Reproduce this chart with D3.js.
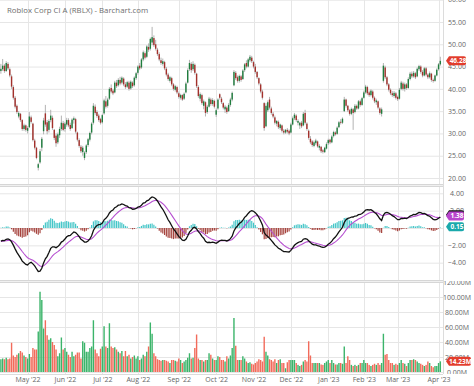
<!DOCTYPE html>
<html>
<head>
<meta charset="utf-8">
<script src="https://cdn.jsdelivr.net/npm/d3@7"></script>
<style>
  body { margin: 0; background: #fff; }
  svg { display: block; font-family: "Open Sans", sans-serif; }
</style>
</head>
<body>
<svg id="chart" width="474" height="386"></svg>
<script>
// daily bars, 8 Apr 2022 .. 4 Apr 2023 (trading days)
const opens = [
  44.0, 44.4, 45.2, 44.0, 45.6, 44.4, 42.8, 40.4, 38.0, 36.2,
  33.8, 34.4, 33.0, 31.0, 31.8, 30.6, 31.4, 33.6, 32.2, 28.4,
  26.8, 22.3, 23.5, 26.8, 30.5, 34.5, 32.5, 30.8, 33.0, 33.5,
  30.8, 29.5, 28.0, 29.6, 31.0, 32.3, 31.0, 32.0, 33.0, 31.9,
  31.2, 33.0, 33.2, 30.2, 28.5, 27.0, 25.8, 24.5, 25.8, 27.4,
  28.6, 30.2, 32.4, 36.0, 34.8, 34.0, 33.2, 32.5, 34.5, 37.2,
  36.2, 37.8, 40.2, 39.6, 39.2, 41.4, 40.8, 42.0, 41.4, 42.3,
  41.0, 40.5, 41.4, 40.1, 41.4, 40.8, 42.4, 43.6, 45.2, 44.8,
  46.6, 48.0, 47.2, 49.4, 49.0, 50.4, 51.4, 50.0, 48.8, 47.8,
  46.4, 45.6, 46.0, 44.5, 43.2, 41.8, 42.4, 41.0, 39.8, 40.4,
  39.0, 38.0, 38.6, 37.8, 39.2, 41.4, 44.4, 45.6, 44.4, 45.4,
  43.4, 40.4, 37.8, 38.6, 36.2, 37.0, 34.8, 36.0, 37.6, 36.6,
  37.3, 34.2, 35.6, 38.8, 37.8, 36.8, 35.4, 35.8, 35.0, 36.4,
  37.6, 40.8, 43.6, 42.6, 41.8, 42.8, 42.2, 44.2, 45.8, 45.0,
  46.4, 47.0, 46.0, 45.0, 43.8, 42.4, 41.0, 39.4, 36.8, 31.6,
  35.2, 37.6, 35.6, 34.4, 33.6, 32.2, 32.6, 31.2, 31.8, 30.6,
  30.2, 30.8, 30.6, 30.2, 32.0, 33.4, 34.0, 32.4, 31.8, 32.4,
  31.8, 34.6, 32.2, 30.6, 28.8, 28.2, 27.2, 27.8, 28.2, 26.8,
  27.0, 26.2, 25.8, 26.6, 27.8, 28.6, 28.0, 29.4, 30.2, 29.9,
  31.4, 32.6, 32.4, 35.0, 37.6, 36.2, 35.2, 34.4, 35.4, 34.8,
  36.2, 35.6, 37.2, 36.4, 38.0, 39.2, 40.4, 39.2, 38.6, 39.4,
  38.0, 37.0, 37.2, 35.6, 34.4, 41.8, 44.8, 42.6, 41.0, 39.8,
  39.0, 38.4, 39.0, 38.2, 37.8, 40.0, 41.2, 40.0, 41.0, 40.2,
  42.2, 43.4, 42.8, 43.5, 42.8, 44.4, 45.0, 43.8, 43.0, 44.6,
  43.2, 42.6, 43.4, 42.0, 41.8, 43.0, 44.4, 45.5
];
const highs = [
  45.6, 46.7, 45.6, 46.2, 46.0, 44.8, 43.2, 40.8, 38.4, 36.5,
  35.0, 34.6, 33.2, 32.2, 32.0, 31.6, 34.8, 34.0, 32.4, 28.8,
  27.0, 23.4, 26.5, 29.2, 33.5, 36.4, 33.0, 33.2, 35.3, 34.0,
  31.0, 30.0, 30.2, 31.5, 34.0, 32.8, 32.6, 33.5, 33.4, 32.4,
  33.4, 33.8, 33.5, 30.4, 28.9, 27.4, 27.2, 26.0, 27.6, 29.0,
  30.4, 32.5, 36.8, 36.5, 35.2, 34.4, 33.5, 34.4, 37.8, 38.4,
  38.0, 40.4, 41.0, 40.0, 41.8, 42.0, 42.4, 42.7, 42.8, 42.6,
  41.5, 41.8, 41.8, 41.9, 41.7, 42.8, 43.8, 45.3, 45.8, 46.9,
  48.6, 48.4, 49.8, 50.2, 51.5, 53.9, 52.0, 51.0, 49.2, 48.2,
  47.0, 46.8, 46.3, 44.9, 43.6, 42.9, 42.7, 41.3, 40.9, 40.7,
  39.4, 38.9, 38.8, 39.2, 41.6, 44.6, 46.5, 46.0, 46.2, 45.7,
  43.6, 40.8, 39.2, 38.9, 37.6, 37.2, 36.4, 38.2, 38.0, 37.9,
  37.6, 35.6, 37.9, 39.0, 38.2, 37.0, 36.4, 36.1, 36.8, 38.0,
  39.4, 44.2, 44.0, 43.0, 43.2, 43.1, 44.4, 45.8, 46.4, 46.9,
  47.6, 47.4, 46.3, 45.6, 44.0, 42.6, 41.3, 39.8, 37.0, 36.8,
  37.4, 38.2, 36.0, 34.8, 34.0, 33.0, 32.9, 32.2, 32.0, 31.0,
  31.0, 31.2, 30.9, 32.4, 33.8, 34.6, 34.3, 33.2, 32.6, 32.8,
  34.8, 35.3, 32.5, 30.9, 29.4, 28.5, 28.4, 28.8, 28.4, 27.6,
  27.2, 26.5, 27.0, 28.0, 28.8, 28.8, 29.6, 30.6, 30.5, 31.6,
  32.8, 33.2, 33.6, 38.2, 37.8, 36.4, 35.5, 35.8, 35.7, 36.6,
  36.5, 37.5, 37.6, 38.2, 39.6, 40.9, 40.7, 39.6, 39.9, 39.7,
  38.3, 37.8, 37.4, 35.9, 35.8, 45.8, 45.2, 42.9, 41.3, 40.1,
  39.5, 39.5, 39.3, 38.5, 40.2, 41.8, 41.6, 41.4, 41.3, 42.6,
  43.8, 43.9, 44.0, 43.8, 44.8, 45.4, 45.3, 44.2, 44.9, 44.9,
  43.5, 43.9, 43.6, 42.3, 43.2, 44.6, 45.8, 47.2
];
const lows = [
  43.4, 44.0, 43.6, 43.8, 44.2, 42.6, 40.0, 37.6, 35.6, 34.4,
  33.4, 32.6, 30.6, 30.6, 30.4, 30.0, 31.2, 32.2, 28.2, 26.4,
  24.2, 21.7, 23.2, 26.0, 29.8, 31.5, 29.8, 30.2, 32.5, 30.8,
  28.5, 27.0, 27.6, 29.0, 30.6, 30.5, 30.4, 31.5, 31.4, 30.6,
  31.0, 32.2, 30.0, 28.2, 26.8, 25.6, 25.0, 24.0, 25.4, 27.0,
  28.2, 29.8, 32.0, 34.2, 33.5, 32.6, 32.0, 32.2, 34.2, 35.6,
  35.8, 37.5, 39.0, 38.6, 39.0, 40.2, 40.5, 40.8, 41.0, 40.6,
  40.0, 40.2, 39.6, 39.8, 40.2, 40.5, 42.0, 43.2, 44.2, 44.5,
  46.2, 46.6, 46.9, 48.3, 48.6, 49.8, 49.4, 48.6, 47.4, 46.2,
  45.4, 45.2, 44.2, 42.8, 41.8, 41.4, 40.6, 39.6, 39.4, 38.8,
  37.8, 37.6, 37.3, 37.5, 39.0, 41.2, 44.0, 43.6, 44.0, 43.2,
  40.2, 38.0, 37.2, 36.4, 35.4, 33.8, 34.4, 35.8, 36.2, 36.2,
  35.6, 33.7, 35.3, 37.6, 36.6, 35.4, 34.6, 34.4, 34.8, 36.0,
  37.2, 40.6, 42.0, 41.4, 41.4, 41.6, 42.0, 43.8, 44.6, 44.8,
  46.0, 45.8, 44.6, 43.4, 42.2, 40.8, 39.0, 37.6, 30.6, 31.4,
  34.8, 35.4, 34.2, 33.4, 32.0, 31.6, 31.0, 30.8, 30.2, 29.8,
  29.9, 30.0, 29.6, 30.0, 31.8, 33.0, 32.6, 31.8, 31.0, 31.2,
  31.6, 32.0, 30.6, 28.6, 27.6, 27.0, 26.9, 27.4, 26.8, 26.2,
  25.6, 25.5, 25.6, 26.4, 27.4, 27.6, 27.8, 29.1, 29.5, 29.7,
  31.2, 32.0, 32.1, 34.8, 35.8, 34.8, 34.0, 34.1, 30.8, 34.5,
  35.3, 35.4, 36.0, 36.2, 37.8, 38.9, 38.6, 38.2, 38.3, 37.6,
  36.8, 36.4, 35.4, 34.2, 33.8, 41.4, 42.2, 40.6, 39.4, 38.6,
  38.2, 38.0, 37.6, 37.3, 37.6, 39.7, 39.6, 39.4, 39.8, 40.0,
  41.9, 42.4, 42.5, 42.2, 42.6, 44.0, 43.4, 42.6, 42.8, 42.8,
  42.2, 42.3, 41.6, 41.4, 41.6, 42.8, 44.1, 45.2
];
const closes = [
  44.5, 45.2, 44.0, 45.8, 44.6, 43.0, 40.5, 38.0, 36.0, 34.8,
  34.6, 33.0, 31.0, 31.8, 30.8, 31.2, 33.8, 32.6, 28.5, 26.8,
  24.5, 23.1, 26.0, 28.8, 32.9, 32.0, 30.5, 32.8, 34.0, 31.2,
  29.0, 27.8, 29.8, 31.0, 32.4, 30.8, 32.2, 33.0, 31.8, 31.0,
  33.1, 33.4, 30.4, 28.6, 27.2, 26.0, 26.8, 25.7, 27.3, 28.7,
  30.1, 32.2, 36.2, 34.6, 33.9, 33.0, 32.4, 34.1, 37.4, 36.0,
  37.6, 40.0, 39.4, 39.0, 41.4, 40.6, 42.0, 41.2, 42.5, 41.0,
  40.4, 41.5, 40.0, 41.6, 40.6, 42.5, 43.5, 45.0, 44.6, 46.6,
  48.2, 47.0, 49.5, 48.8, 51.2, 51.6, 49.8, 49.0, 47.8, 46.6,
  45.8, 46.2, 44.6, 43.2, 42.2, 42.6, 41.0, 40.0, 40.6, 39.2,
  38.2, 38.6, 37.6, 38.9, 41.2, 44.2, 45.8, 44.2, 45.6, 43.6,
  40.6, 38.4, 38.8, 36.8, 37.2, 34.6, 36.0, 37.8, 36.6, 37.5,
  36.0, 35.2, 37.6, 38.0, 37.0, 35.8, 36.0, 34.8, 36.4, 37.6,
  39.1, 43.8, 42.4, 41.8, 42.9, 42.0, 44.1, 45.5, 45.0, 46.6,
  47.2, 46.2, 45.0, 43.8, 42.6, 41.2, 39.4, 38.0, 31.2, 36.2,
  37.0, 35.8, 34.6, 33.8, 32.4, 32.8, 31.4, 32.0, 30.6, 30.2,
  30.8, 30.4, 30.0, 32.0, 33.4, 34.2, 33.0, 32.8, 32.4, 31.6,
  34.4, 32.4, 31.0, 29.0, 28.0, 27.4, 28.0, 28.4, 27.1, 27.2,
  26.0, 25.9, 26.8, 27.6, 28.5, 28.0, 29.3, 30.3, 29.8, 31.3,
  32.5, 32.4, 33.3, 37.6, 36.2, 35.2, 34.4, 35.5, 34.6, 36.2,
  35.6, 37.2, 36.4, 37.9, 39.2, 40.5, 39.0, 38.6, 39.6, 38.0,
  37.2, 37.4, 35.8, 34.6, 35.4, 45.2, 42.6, 41.0, 39.8, 39.0,
  38.6, 39.1, 38.0, 37.7, 39.8, 41.4, 40.0, 41.0, 40.2, 42.2,
  43.4, 42.8, 43.6, 42.6, 44.5, 45.1, 43.8, 43.0, 44.6, 43.2,
  42.6, 43.5, 42.0, 41.8, 43.0, 44.3, 45.5, 46.28
];
// volume in millions
const volumes = [
  17, 18, 17, 19, 17, 18, 39, 22, 20, 23,
  25, 28, 26, 22, 20, 18, 24, 20, 32, 30,
  30, 54, 107, 96, 58, 69, 49, 43, 45, 40,
  36, 30, 21, 25, 46, 30, 32, 27, 23, 20,
  27, 21, 23, 26, 26, 18, 41, 39, 27, 27,
  32, 34, 69, 30, 25, 21, 31, 34, 61, 34,
  32, 65, 34, 32, 33, 30, 27, 25, 28, 21,
  28, 21, 23, 18, 20, 22, 18, 21, 16, 18,
  23, 21, 27, 34, 66, 51, 25, 21, 17, 16,
  15, 16, 16, 15, 14, 12, 16, 16, 15, 14,
  18, 16, 12, 14, 16, 19, 25, 18, 19, 32,
  50, 18, 16, 16, 14, 16, 16, 25, 23, 18,
  16, 16, 21, 20, 16, 16, 14, 21, 18, 22,
  32, 72, 35, 16, 16, 16, 21, 18, 14, 12,
  13, 11, 10, 12, 14, 17, 16, 14, 47, 27,
  22, 17, 16, 14, 17, 12, 16, 17, 12, 12,
  5, 13, 16, 16, 16, 16, 12, 9.5, 8, 9.5,
  14, 16, 14, 41, 22, 12, 12, 12, 12, 12,
  10, 9.5, 12, 14, 16, 12, 16, 12, 10, 10,
  12, 12, 11, 34, 12, 21, 16, 9.5, 8, 9.5,
  8, 9.5, 12, 12, 16, 12, 12, 9.5, 8, 9.5,
  11, 9.5, 12, 9.5, 12, 51, 23, 24, 16, 12,
  12, 9.5, 11, 9.5, 12, 16, 12, 11, 8, 12,
  16, 16, 17, 16, 14, 12, 11, 9.5, 8, 9.5,
  14, 12, 8, 6.3, 8, 8, 12, 14.23
];
// closes before the visible window, only used to warm up the MACD
const priorCloses = [
  54.5, 53.8, 54.2, 53.5, 52.9, 53.4, 52.6, 52.0, 52.5, 51.8,
  51.2, 51.6, 50.8, 50.4, 50.9, 50.1, 49.6, 50.0, 49.3, 48.8,
  49.2, 48.5, 48.0, 48.4, 47.7, 47.3, 47.7, 47.0, 46.6, 47.0,
  46.3, 45.9, 46.3, 45.7, 45.3, 45.6, 45.0, 44.7, 45.1, 44.6
];

const monthStarts = [15, 36, 57, 77, 100, 121, 142, 163, 184, 204, 223, 246];
const monthLabels = ["May '22", "Jun '22", "Jul '22", "Aug '22", "Sep '22", "Oct '22",
  "Nov '22", "Dec '22", "Jan '23", "Feb '23", "Mar '23", "Apr '23"];
const priceTicks = [20, 25, 30, 35, 40, 45, 50, 55, 60];
const macdTicks = [-4, -2, 0, 2, 4];
const volTicks = [0, 20, 40, 60, 80, 100, 120];

const lastPrice = 46.28, lastSignal = 1.38, lastHist = 0.15, lastVolume = 14.23;

const plotL = 0, plotR = 443;
const pricePanel = { top: 0, bottom: 184 };
const macdPanel = { top: 187, bottom: 280 };
const volPanel = { top: 281, bottom: 374 };

const svg = d3.select("#chart");

const x = d3.scaleLinear().domain([-0.5, closes.length + 0.5]).range([plotL, plotR]);
const yPrice = d3.scaleLinear().domain([20, 55]).range([178, 22]);
const yMacd = d3.scaleLinear().domain([-4, 4]).range([262.7, 193.3]);
const yVol = d3.scaleLinear().domain([0, 120]).range([372, 282]);

// MACD 12/26/9
function ema(values, n) {
  const k = 2 / (n + 1);
  let prev = values[0];
  return values.map((v, i) => {
    if (i > 0) prev = v * k + prev * (1 - k);
    return prev;
  });
}
const allCloses = priorCloses.concat(closes);
const e12 = ema(allCloses, 12), e26 = ema(allCloses, 26);
const macdAll = e12.map((d, i) => d - e26[i]);
const sigAll = ema(macdAll, 9);
const macd = macdAll.slice(priorCloses.length);
const signal = sigAll.slice(priorCloses.length);
const hist = macd.map((d, i) => d - signal[i]);

const gridColor = "#e6e6e6";
const idx = d3.range(closes.length);

function panelClip(id, p) {
  svg.append("clipPath").attr("id", id)
    .append("rect").attr("x", plotL).attr("y", p.top)
    .attr("width", plotR - plotL).attr("height", p.bottom - p.top);
}
panelClip("clipPrice", pricePanel);
panelClip("clipMacd", macdPanel);
panelClip("clipVol", volPanel);

function labelClip(id, p) {
  svg.append("clipPath").attr("id", id)
    .append("rect").attr("x", plotR).attr("y", p.top)
    .attr("width", 474 - plotR).attr("height", p.bottom - p.top);
}
labelClip("lclipPrice", pricePanel);
labelClip("lclipMacd", macdPanel);
labelClip("lclipVol", volPanel);

function grid(p, yScale, ticks, clip) {
  const g = svg.append("g").attr("clip-path", `url(#${clip})`);
  g.append("g")
    .call(d3.axisLeft(yScale).tickValues(ticks).tickSize(-(plotR - plotL)).tickFormat(""))
    .call(a => a.select(".domain").remove())
    .selectAll("line").attr("stroke", gridColor);
  g.selectAll(".vgrid").data(monthStarts).join("line")
    .attr("class", "vgrid")
    .attr("x1", d => Math.round(x(d)) + 0.5).attr("x2", d => Math.round(x(d)) + 0.5)
    .attr("y1", p.top).attr("y2", p.bottom)
    .attr("stroke", gridColor);
  return g;
}

function rightAxis(yScale, ticks, fmt, clip) {
  svg.append("g")
    .attr("clip-path", `url(#${clip})`)
    .append("g")
    .attr("transform", `translate(457,0)`)
    .call(d3.axisRight(yScale).tickValues(ticks).tickSize(0).tickPadding(0).tickFormat(fmt))
    .call(a => a.select(".domain").remove())
    .selectAll("text")
    .attr("x", 0)
    .attr("text-anchor", "middle")
    .attr("fill", "#666")
    .style("font-size", "7px")
    .style("font-family", "'Open Sans', sans-serif");
}

// ---- price panel
const gPrice = grid(pricePanel, yPrice, priceTicks, "clipPrice");
gPrice.selectAll(".wick").data(idx).join("line")
  .attr("class", "wick")
  .attr("x1", i => x(i)).attr("x2", i => x(i))
  .attr("y1", i => yPrice(highs[i])).attr("y2", i => yPrice(lows[i]))
  .attr("stroke", "#a0a0a0").attr("stroke-width", 0.8);
gPrice.selectAll(".body").data(idx).join("rect")
  .attr("class", "body")
  .attr("x", i => x(i) - 0.7).attr("width", 1.4)
  .attr("y", i => yPrice(Math.max(opens[i], closes[i])))
  .attr("height", i => Math.max(0.6, Math.abs(yPrice(opens[i]) - yPrice(closes[i]))))
  .attr("fill", i => closes[i] >= opens[i] ? "#1f7d3e" : "#a3302b");
rightAxis(yPrice, priceTicks, d3.format(".2f"), "lclipPrice");

// ---- MACD panel
const gMacd = grid(macdPanel, yMacd, macdTicks, "clipMacd");
gMacd.selectAll(".hist").data(idx).join("line")
  .attr("class", "hist")
  .attr("x1", i => x(i)).attr("x2", i => x(i))
  .attr("y1", yMacd(0)).attr("y2", i => yMacd(hist[i]))
  .attr("stroke", i => hist[i] >= 0 ? "#45c6c8" : "#a6443e")
  .attr("stroke-width", 1.2);
gMacd.append("path").datum(idx)
  .attr("fill", "none").attr("stroke", "#b64fd0").attr("stroke-width", 1.1)
  .attr("d", d3.line().x(i => x(i)).y(i => yMacd(signal[i])));
gMacd.append("path").datum(idx)
  .attr("fill", "none").attr("stroke", "#111").attr("stroke-width", 1.3)
  .attr("d", d3.line().x(i => x(i)).y(i => yMacd(macd[i])));
rightAxis(yMacd, macdTicks, d3.format(".2f"), "lclipMacd");

// ---- volume panel
const gVol = grid(volPanel, yVol, volTicks, "clipVol");
gVol.selectAll(".vol").data(idx).join("rect")
  .attr("class", "vol")
  .attr("x", i => x(i) - 0.7).attr("width", 1.4)
  .attr("y", i => yVol(volumes[i]))
  .attr("height", i => yVol(0) - yVol(volumes[i]))
  .attr("fill", i => closes[i] >= opens[i] ? "#3bb46a" : "#f26b5b");
rightAxis(yVol, volTicks, d => d.toFixed(2) + "M", "lclipVol");

// ---- panel separators and borders
[pricePanel.bottom, macdPanel.bottom].forEach(yy => {
  svg.append("rect").attr("x", 0).attr("y", yy).attr("width", plotR).attr("height", 3)
    .attr("fill", "#f0f0f0");
  svg.append("line").attr("x1", 0).attr("x2", plotR).attr("y1", yy + 0.5).attr("y2", yy + 0.5)
    .attr("stroke", "#d6d6d6");
  svg.append("line").attr("x1", 0).attr("x2", plotR).attr("y1", yy + 2.5).attr("y2", yy + 2.5)
    .attr("stroke", "#d6d6d6");
});
svg.append("line").attr("x1", plotR + 0.5).attr("x2", plotR + 0.5)
  .attr("y1", 0).attr("y2", volPanel.bottom).attr("stroke", "#dcdcdc");
svg.append("line").attr("x1", 0).attr("x2", plotR)
  .attr("y1", volPanel.bottom + 0.5).attr("y2", volPanel.bottom + 0.5).attr("stroke", "#dcdcdc");

// ---- x axis
svg.append("g")
  .attr("transform", `translate(0,${volPanel.bottom})`)
  .call(d3.axisBottom(x).tickValues(monthStarts).tickSize(0).tickPadding(3)
    .tickFormat((d, k) => monthLabels[k]))
  .call(a => a.select(".domain").remove())
  .selectAll("text")
  .attr("fill", "#666")
  .style("font-size", "7px")
  .style("font-family", "'Open Sans', sans-serif");

// ---- value tags
function tag(yPos, label, fill, w) {
  const h = 9, x0 = plotR + 3;
  svg.append("path")
    .attr("d", `M${x0},${yPos} L${x0 + 3},${yPos - h / 2} H${x0 + w - 2} Q${x0 + w},${yPos - h / 2} ${x0 + w},${yPos - h / 2 + 2}` +
      ` V${yPos + h / 2 - 2} Q${x0 + w},${yPos + h / 2} ${x0 + w - 2},${yPos + h / 2} H${x0 + 3} Z`)
    .attr("fill", fill);
  svg.append("text")
    .attr("x", x0 + 2 + w / 2).attr("y", yPos).attr("dy", "0.35em")
    .attr("text-anchor", "middle").attr("fill", "#fff")
    .style("font-size", "6.5px").style("font-weight", "bold")
    .text(label);
}
tag(yPrice(lastPrice), lastPrice.toFixed(2), "#e23d2d", 20);
tag(yMacd(lastSignal + lastHist), (lastSignal + lastHist).toFixed(2), "#111", 18);
tag(yMacd(lastSignal), lastSignal.toFixed(2), "#b845cc", 18);
tag(yMacd(lastHist), lastHist.toFixed(2), "#1aa9ab", 18);
tag(yVol(lastVolume), lastVolume.toFixed(2) + "M", "#e23d2d", 25);

// ---- title
svg.append("text")
  .attr("x", 7).attr("y", 12.5)
  .attr("fill", "#6e6e6e")
  .style("font-size", "7.8px")
  .text("Roblox Corp Cl A (RBLX) - Barchart.com");
</script>
</body>
</html>
